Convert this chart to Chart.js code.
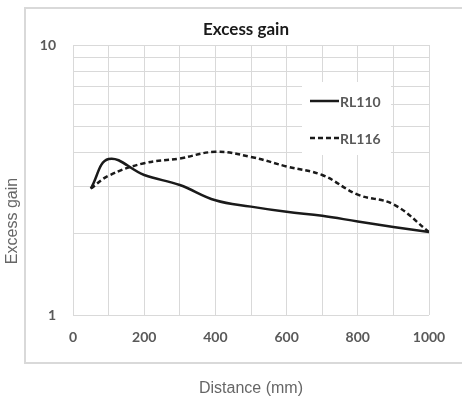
<!DOCTYPE html>
<html>
<head>
<meta charset="utf-8">
<script src="https://cdn.jsdelivr.net/npm/chart.js@4.4.1/dist/chart.umd.min.js"></script>
<style>
  html, body { margin: 0; padding: 0; background: #fff; }
  #wrap { width: 462px; height: 403px; }
</style>
</head>
<body>
<div id="wrap"><canvas id="gainChart" width="462" height="403"></canvas></div>
<script>
const distances = [50, 100, 200, 300, 400, 500, 600, 700, 800, 900, 1000];
const rl110 = [2.94, 3.78, 3.30, 3.03, 2.66, 2.52, 2.41, 2.33, 2.22, 2.12, 2.03];
const rl116 = [2.94, 3.28, 3.65, 3.80, 4.02, 3.85, 3.55, 3.30, 2.79, 2.57, 2.03];
const xLabels = [0, 200, 400, 600, 800, 1000];
const yGrid = [1, 2, 3, 4, 5, 6, 7, 8, 9, 10];
const yLabels = [1, 10];

const tickFont = { family: 'Lato', size: 14, weight: 'bold' };
const gridColor = '#d9d9d9';

const decorations = {
  id: 'decorations',
  beforeDraw(chart) {
    const ctx = chart.ctx;
    ctx.save();
    ctx.fillStyle = '#fff';
    ctx.fillRect(0, 0, chart.width, chart.height);
    ctx.strokeStyle = gridColor;
    ctx.lineWidth = 2;
    ctx.strokeRect(25, 8, 460, 355);
    ctx.restore();
  },
  afterDatasetsDraw(chart) {
    const ctx = chart.ctx;
    const area = chart.chartArea;
    ctx.save();
    // chart title
    ctx.fillStyle = '#1a1a1a';
    ctx.font = 'bold 17px Lato';
    ctx.textAlign = 'center';
    ctx.textBaseline = 'middle';
    ctx.fillText('Excess gain', 246, 30);

    // axis titles
    ctx.fillStyle = '#666';
    ctx.font = '16px "Liberation Sans"';
    ctx.fillText('Distance (mm)', (area.left + area.right) / 2, 389);
    ctx.translate(13, 221);
    ctx.rotate(-Math.PI / 2);
    ctx.fillText('Excess gain', 0, 0);
    ctx.restore();

    // legend inside the plot
    ctx.save();
    ctx.fillStyle = '#fff';
    ctx.fillRect(302, 82, 89, 73);
    ctx.font = 'bold 14px Lato';
    ctx.textAlign = 'left';
    ctx.textBaseline = 'middle';
    chart.data.datasets.forEach((ds, i) => {
      const y = 101 + i * 37;
      ctx.strokeStyle = ds.borderColor;
      ctx.lineWidth = ds.borderWidth;
      ctx.setLineDash(ds.borderDash || []);
      ctx.beginPath();
      ctx.moveTo(310, y);
      ctx.lineTo(339, y);
      ctx.stroke();
      ctx.fillStyle = '#595959';
      ctx.fillText(ds.label, 340, y + 1);
    });
    ctx.restore();
  }
};

new Chart(document.getElementById('gainChart'), {
  type: 'line',
  data: {
    datasets: [
      {
        label: 'RL110',
        data: distances.map((d, i) => ({ x: d, y: rl110[i] })),
        borderColor: '#1a1a1a',
        borderWidth: 2.5,
        pointRadius: 0,
        tension: 0.4,
        fill: false
      },
      {
        label: 'RL116',
        data: distances.map((d, i) => ({ x: d, y: rl116[i] })),
        borderColor: '#1a1a1a',
        borderWidth: 2.5,
        borderDash: [5, 3],
        pointRadius: 0,
        tension: 0.4,
        fill: false
      }
    ]
  },
  options: {
    responsive: false,
    animation: false,
    layout: { padding: { left: 0, right: 33, top: 45, bottom: 58 } },
    plugins: {
      legend: { display: false },
      title: { display: false },
      tooltip: { enabled: false }
    },
    scales: {
      x: {
        type: 'linear',
        min: 0,
        max: 1000,
        afterFit: s => { s.height = 30; },
        border: { display: false },
        grid: { color: gridColor, lineWidth: 1, drawTicks: false },
        ticks: {
          stepSize: 100,
          autoSkip: false,
          maxRotation: 0,
          padding: 14,
          color: '#595959',
          font: tickFont,
          callback: v => xLabels.includes(v) ? String(v) : ''
        }
      },
      y: {
        type: 'logarithmic',
        min: 1,
        max: 10,
        afterFit: s => { s.width = 73; },
        afterBuildTicks: s => { s.ticks = yGrid.map(v => ({ value: v })); },
        border: { display: false },
        grid: { color: gridColor, lineWidth: 1, drawTicks: false },
        ticks: {
          autoSkip: false,
          padding: 17,
          color: '#595959',
          font: tickFont,
          callback: v => yLabels.includes(v) ? String(v) : ''
        }
      }
    }
  },
  plugins: [decorations]
});
</script>
</body>
</html>
